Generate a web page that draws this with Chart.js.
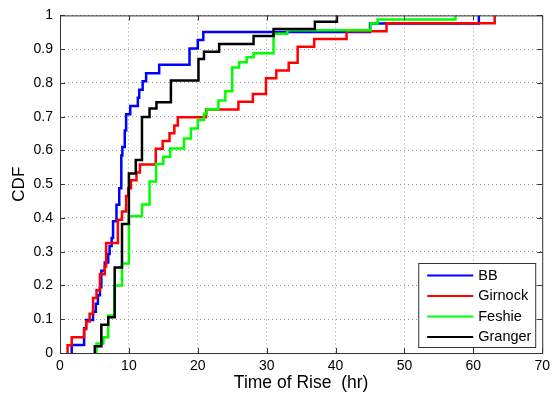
<!DOCTYPE html>
<html>
<head>
<meta charset="utf-8">
<script src="https://cdn.jsdelivr.net/npm/chart.js"></script>
<style>
  html, body { margin: 0; padding: 0; background: #fff; }
  #wrap { width: 555px; height: 402px; }
</style>
</head>
<body>
<div id="wrap"><canvas id="cdfChart" width="555" height="402"></canvas></div>
<script>
// step points: time (hr) and the CDF level after each jump
const bbHours = [1.7, 1.7, 3.5, 3.8, 4.8, 5.2, 5.5, 5.8, 6.0, 6.5, 7.0, 7.2, 7.5, 7.7, 8.2, 8.6, 8.9, 9.05, 9.4, 9.6, 10.2, 11.3, 11.5, 12.0, 12.5, 14.4, 18.8, 20.0, 20.8, 45.0, 60.8];
const bbCdf   = [0, 0.024, 0.073, 0.098, 0.122, 0.146, 0.171, 0.195, 0.244, 0.268, 0.293, 0.317, 0.341, 0.390, 0.439, 0.488, 0.585, 0.610, 0.659, 0.707, 0.732, 0.756, 0.780, 0.805, 0.829, 0.854, 0.902, 0.927, 0.951, 0.976, 1.0];

const girnockHours = [1.1, 1.1, 1.7, 3.5, 3.8, 4.3, 4.8, 5.3, 5.8, 6.5, 6.7, 8.4, 9.0, 9.6, 9.9, 10.3, 11.1, 11.6, 13.9, 14.9, 15.9, 16.6, 17.1, 21.2, 25.9, 28.0, 29.9, 31.4, 33.2, 34.5, 36.9, 41.6, 47.4, 63.1];
const girnockCdf   = [0, 0.023, 0.047, 0.070, 0.093, 0.116, 0.163, 0.186, 0.233, 0.256, 0.326, 0.395, 0.419, 0.465, 0.488, 0.512, 0.535, 0.558, 0.605, 0.628, 0.651, 0.674, 0.698, 0.721, 0.744, 0.767, 0.814, 0.837, 0.860, 0.907, 0.930, 0.953, 0.977, 1.0];

const feshieHours = [5.3, 5.3, 6.3, 7.0, 7.9, 9.0, 10.0, 11.9, 13.0, 13.95, 15.0, 16.0, 18.0, 19.0, 20.0, 20.9, 21.3, 23.0, 24.0, 25.0, 26.0, 27.1, 28.1, 31.0, 33.0, 45.1, 46.1, 57.4];
const feshieCdf   = [0, 0.028, 0.047, 0.111, 0.200, 0.265, 0.405, 0.440, 0.508, 0.560, 0.581, 0.606, 0.635, 0.665, 0.690, 0.709, 0.722, 0.748, 0.775, 0.846, 0.861, 0.876, 0.888, 0.946, 0.956, 0.976, 0.988, 1.0];

const grangerHours = [5.05, 5.05, 6.0, 7.0, 7.94, 9.0, 10.0, 11.0, 11.9, 13.0, 14.0, 16.1, 20.1, 20.9, 23.1, 28.1, 31.0, 37.0, 40.2];
const grangerCdf   = [0, 0.020, 0.084, 0.106, 0.253, 0.382, 0.532, 0.572, 0.699, 0.724, 0.743, 0.807, 0.871, 0.892, 0.915, 0.939, 0.960, 0.981, 1.0];

const xTicks = [0, 10, 20, 30, 40, 50, 60, 70];
const yTicks = [0, 0.1, 0.2, 0.3, 0.4, 0.5, 0.6, 0.7, 0.8, 0.9, 1];

const seriesList = [
  { label: 'BB',      hours: bbHours,      cdf: bbCdf,      color: '#0000ff' },
  { label: 'Girnock', hours: girnockHours, cdf: girnockCdf, color: '#ff0000' },
  { label: 'Feshie',  hours: feshieHours,  cdf: feshieCdf,  color: '#00ff00' },
  { label: 'Granger', hours: grangerHours, cdf: grangerCdf, color: '#000000' }
];

const FONT = 'Liberation Sans, Arial, sans-serif';

// matlab style box round the axes, ticks pointing inwards
const axesBox = {
  id: 'axesBox',
  afterDraw(chart) {
    const { ctx, chartArea: a, scales } = chart;
    ctx.save();
    ctx.strokeStyle = '#333';
    ctx.lineWidth = 1;
    ctx.strokeRect(a.left + 0.5, a.top + 0.5, a.right - a.left, a.bottom - a.top);
    ctx.beginPath();
    xTicks.forEach(v => {
      const px = Math.round(scales.x.getPixelForValue(v)) + 0.5;
      ctx.moveTo(px, a.bottom); ctx.lineTo(px, a.bottom - 5);
      ctx.moveTo(px, a.top); ctx.lineTo(px, a.top + 5);
    });
    yTicks.forEach(v => {
      const py = Math.round(scales.y.getPixelForValue(v)) + 0.5;
      ctx.moveTo(a.left, py); ctx.lineTo(a.left + 5, py);
      ctx.moveTo(a.right, py); ctx.lineTo(a.right - 5, py);
    });
    ctx.stroke();
    ctx.restore();
  }
};

// legend box in the lower right corner of the plot
const boxLegend = {
  id: 'boxLegend',
  afterDraw(chart) {
    const { ctx, chartArea: a } = chart;
    const x0 = a.right - 124, y0 = a.bottom - 90, w = 117, h = 84;
    ctx.save();
    ctx.fillStyle = '#fff';
    ctx.fillRect(x0, y0, w, h);
    ctx.strokeStyle = '#333';
    ctx.lineWidth = 1;
    ctx.strokeRect(x0 + 0.5, y0 + 0.5, w, h);
    ctx.font = '14.5px ' + FONT;
    ctx.textBaseline = 'middle';
    seriesList.forEach((s, i) => {
      const yy = y0 + 12.5 + i * 20.5;
      ctx.strokeStyle = s.color;
      ctx.lineWidth = 2;
      ctx.beginPath();
      ctx.moveTo(x0 + 9, yy); ctx.lineTo(x0 + 55, yy);
      ctx.stroke();
      ctx.fillStyle = '#000';
      ctx.fillText(s.label, x0 + 60, yy);
    });
    ctx.restore();
  }
};

const datasets = seriesList.map((s, i) => ({
  label: s.label,
  data: s.hours.map((h, j) => ({ x: h, y: s.cdf[j] })),
  borderColor: s.color,
  backgroundColor: s.color,
  borderWidth: 2.5,
  pointRadius: 0,
  stepped: true,
  fill: false,
  clip: false,
  order: seriesList.length - i
}));

new Chart(document.getElementById('cdfChart'), {
  type: 'line',
  data: { datasets: datasets },
  options: {
    responsive: false,
    animation: false,
    events: [],
    layout: { padding: { left: 0, right: 10, top: 13, bottom: 0 } },
    plugins: {
      legend: { display: false },
      tooltip: { enabled: false }
    },
    scales: {
      x: {
        type: 'linear',
        min: 0,
        max: 70,
        afterBuildTicks: s => { s.ticks = xTicks.map(v => ({ value: v })); },
        afterFit: s => { s.height = 49; },
        grid: { color: '#9a9a9a', drawTicks: false },
        border: { display: false, dash: [1, 3] },
        ticks: { color: '#000', padding: 5, maxRotation: 0, font: { family: FONT, size: 14 } },
        title: {
          display: true,
          text: 'Time of Rise  (hr)',
          color: '#000',
          font: { family: FONT, size: 17.5 },
          padding: { top: 0, bottom: 8 }
        }
      },
      y: {
        type: 'linear',
        min: 0,
        max: 1,
        afterBuildTicks: s => { s.ticks = yTicks.map(v => ({ value: v })); },
        afterFit: s => { s.width = 60; },
        grid: { color: '#9a9a9a', drawTicks: false },
        border: { display: false, dash: [1, 3] },
        ticks: {
          color: '#000',
          padding: 7,
          font: { family: FONT, size: 14 },
          callback: v => String(v)
        },
        title: {
          display: true,
          text: 'CDF',
          color: '#000',
          font: { family: FONT, size: 17 },
          padding: { top: 9, bottom: 0 }
        }
      }
    }
  },
  plugins: [axesBox, boxLegend]
});
</script>
</body>
</html>
